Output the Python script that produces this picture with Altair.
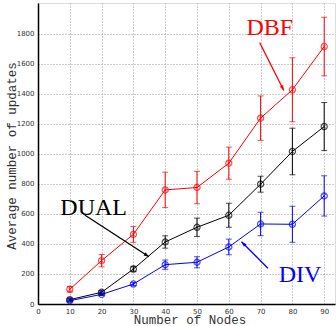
import altair as alt
import pandas as pd
import math

nodes = [10, 20, 30, 40, 50, 60, 70, 80, 90]
dbf = [98, 289, 464, 760, 776, 938, 1238, 1427, 1715]
dbf_err = [18, 41, 53, 118, 108, 107, 148, 213, 195]
dual = [29, 78, 233, 413, 511, 591, 798, 1016, 1182]
dual_err = [8, 12, 18, 41, 61, 80, 53, 155, 160]
div = [22, 64, 133, 262, 278, 380, 533, 531, 720]
div_err = [5, 8, 10, 31, 37, 52, 78, 120, 134]

series = ["DUAL", "DBF", "DIV"]
colors = ["#000000", "#ff0000", "#0000ff"]
x_ticks = [0, 10, 20, 30, 40, 50, 60, 70, 80, 90]
y_ticks = [0, 200, 400, 600, 800, 1000, 1200, 1400, 1600, 1800]

# annotation labels and arrows (data coords)
ann_label = ["DBF", "DUAL", "DIV"]
ann_x = [72.9, 17.5, 82.4]
ann_y = [1840, 640, 190]
arrow_x = [69.7, 14.7, 72.3]
arrow_y = [1742, 593, 238]
arrow_x2 = [77.3, 34.9, 64.0]
arrow_y2 = [1422, 315, 415]

W, H = 297, 301
XMAX, YMAX = 93.4, 2005

rows = []
for name, vals, errs in [("DUAL", dual, dual_err), ("DBF", dbf, dbf_err), ("DIV", div, div_err)]:
    for n, v, e in zip(nodes, vals, errs):
        rows.append({"series": name, "nodes": n, "value": v, "lo": v - e, "hi": v + e})
df = pd.DataFrame(rows)

arows = []
for lab, x1, y1, x2, y2 in zip(ann_label, arrow_x, arrow_y, arrow_x2, arrow_y2):
    dx = (x2 - x1) * W / XMAX
    dy = -(y2 - y1) * H / YMAX
    ang = math.degrees(math.atan2(dx, -dy)) % 360
    arows.append({"series": lab, "x1": x1, "y1": y1, "x2": x2, "y2": y2, "ang": ang})
adf = pd.DataFrame(arows)
tdf = pd.DataFrame({"series": ann_label, "x": ann_x, "y": ann_y})

xs = alt.Scale(domain=[0, XMAX], nice=False, zero=False)
ys = alt.Scale(domain=[0, YMAX], nice=False)
cs = alt.Scale(domain=series, range=colors)

xax = alt.Axis(values=x_ticks, title="Number of Nodes", grid=True, gridDash=[1, 2],
               gridColor="#999999", ticks=False, labelPadding=3, labelFontSize=7,
               labelColor="#333333", labelFont="DejaVu Sans", labelOverlap=False,
               labelFlush=False, format="d", titleFont="Liberation Mono",
               titleFontSize=12.5, titleFontWeight="normal", titleColor="#333333",
               titleX=W / 2 + 3, titleY=15, titleBaseline="middle",
               domainColor="black", domainWidth=1.5)
yax = alt.Axis(values=y_ticks, title="Average number of updates", grid=True, gridDash=[1, 2],
               gridColor="#999999", ticks=False, labelPadding=4, labelFontSize=7,
               labelColor="#333333", labelFont="DejaVu Sans", labelOverlap=False,
               labelFlush=False, format="d", titleFont="Liberation Mono",
               titleFontSize=12.5, titleFontWeight="normal", titleColor="#333333",
               titleX=-27, titleY=H / 2 + 2, titleBaseline="middle", titleAngle=270,
               domainColor="black", domainWidth=1.5)

base = alt.Chart(df)
col = alt.Color("series:N", scale=cs, legend=None)


def X(f):
    return alt.X(f, scale=xs, axis=xax, title="Number of Nodes")


def Y(f):
    return alt.Y(f, scale=ys, axis=yax, title="Average number of updates")


lines = base.mark_line(strokeWidth=1).encode(
    x=X("nodes:Q"), y=Y("value:Q"), color=col, detail="series:N")
err = base.mark_rule(strokeWidth=1).encode(
    x=X("nodes:Q"), y=Y("lo:Q"), y2="hi:Q", color=col)
cap_lo = base.mark_tick(orient="horizontal", size=6, thickness=1).encode(
    x=X("nodes:Q"), y=Y("lo:Q"), color=col)
cap_hi = base.mark_tick(orient="horizontal", size=6, thickness=1).encode(
    x=X("nodes:Q"), y=Y("hi:Q"), color=col)
pts = base.mark_point(shape="circle", filled=False, size=38, strokeWidth=1.2).encode(
    x=X("nodes:Q"), y=Y("value:Q"), color=col)
crs = base.mark_point(shape="M-0.7,-0.7L0.7,0.7M-0.7,0.7L0.7,-0.7", filled=False,
                      size=30, strokeWidth=0.8).encode(
    x=X("nodes:Q"), y=Y("value:Q"), color=col)

arrow_line = alt.Chart(adf).mark_rule(strokeWidth=1.3).encode(
    x=X("x1:Q"), y=Y("y1:Q"), x2="x2:Q", y2="y2:Q", color=col)
arrow_head = alt.Chart(adf).mark_point(shape="M0,0L-0.35,1L0.35,1Z", filled=True,
                                       size=110, opacity=1).encode(
    x=X("x2:Q"), y=Y("y2:Q"),
    angle=alt.Angle("ang:Q", scale=None), color=col)
texts = alt.Chart(tdf).mark_text(font="Liberation Serif", fontSize=24, align="center",
                                 baseline="middle").encode(
    x=X("x:Q"), y=Y("y:Q"), text="series:N", color=col)

chart = alt.layer(lines, err, cap_lo, cap_hi, pts, crs, arrow_line, arrow_head, texts).properties(
    width=W, height=H, autosize="none",
    padding={"left": 38, "top": 3, "right": 1, "bottom": 22}
).configure_view(stroke="black", strokeWidth=1.5).configure(background="white")

chart.save("out.html", embed_options={"renderer": "svg", "actions": False})
